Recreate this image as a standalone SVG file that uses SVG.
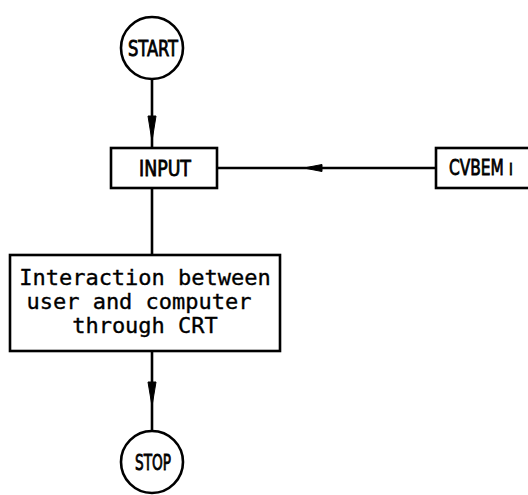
<svg xmlns="http://www.w3.org/2000/svg" width="528" height="495" viewBox="0 0 528 495">
  <style>
    .shape { fill: #fff; stroke: #000; stroke-width: 2.6; }
    .edge { fill: none; stroke: #000; stroke-width: 2.6; }
    .head { fill: #000; stroke: #000; stroke-width: 1; stroke-linejoin: round; }
    .lbl { font-family: "DejaVu Sans Condensed", "DejaVu Sans", "Liberation Sans", sans-serif; font-size: 22px; fill: #000; stroke: #000; stroke-width: 0.8; text-anchor: middle; }
    .body { font-family: "DejaVu Sans Mono", "Liberation Mono", monospace; font-size: 22px; fill: #000; stroke: #000; stroke-width: 0.35; text-anchor: middle; }
  </style>

  <rect width="528" height="495" fill="#fff"/>

  <g id="connectors">
    <!-- START to INPUT -->
    <line class="edge" x1="152" y1="79" x2="152" y2="148"/>
    <path class="head" d="M148,116 L156,116 L152,141 Z"/>
    <!-- CVBEM 1 to INPUT -->
    <line class="edge" x1="217" y1="168" x2="436" y2="168"/>
    <path class="head" d="M304,168 L322,164.5 L322,171.5 Z"/>
    <!-- INPUT to interaction -->
    <line class="edge" x1="152" y1="188" x2="152" y2="255"/>
    <!-- interaction to STOP -->
    <line class="edge" x1="152" y1="351" x2="152" y2="432"/>
    <path class="head" d="M148,382 L156,382 L152,406 Z"/>
  </g>

  <g id="start">
    <circle class="shape" cx="152" cy="48" r="31"/>
    <text class="lbl" x="153" y="56" textLength="50" lengthAdjust="spacingAndGlyphs">START</text>
  </g>

  <g id="input">
    <rect class="shape" x="111" y="148" width="106" height="40"/>
    <text class="lbl" x="165" y="176" textLength="52" lengthAdjust="spacingAndGlyphs">INPUT</text>
  </g>

  <g id="cvbem1">
    <rect class="shape" x="436" y="148" width="100" height="40"/>
    <text class="lbl" x="481" y="175" font-size="18" textLength="64" lengthAdjust="spacingAndGlyphs">CVBEM ı</text>
  </g>

  <g id="interaction">
    <rect class="shape" x="10" y="255" width="270" height="96"/>
    <text class="body" x="145" y="285">Interaction between</text>
    <text class="body" x="139" y="309">user and computer</text>
    <text class="body" x="145" y="333">through CRT</text>
  </g>

  <g id="stop">
    <circle class="shape" cx="152" cy="462" r="31"/>
    <text class="lbl" x="153" y="470" textLength="36" lengthAdjust="spacingAndGlyphs">STOP</text>
  </g>
</svg>
